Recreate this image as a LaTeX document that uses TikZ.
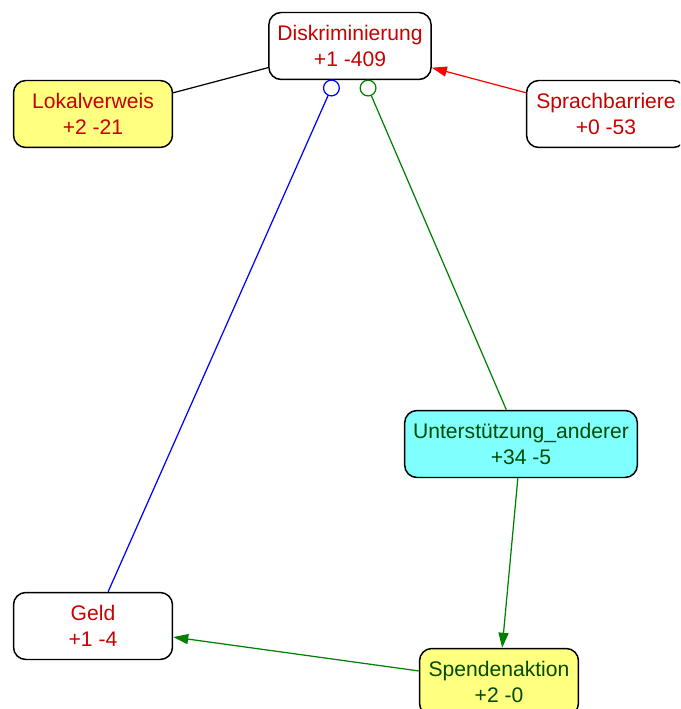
\documentclass[tikz,border=0pt]{standalone}
\usepackage{fontspec}
\setmainfont{Liberation Sans}
\usetikzlibrary{arrows.meta}

\definecolor{txtred}{RGB}{200,0,0}
\definecolor{txtgreen}{RGB}{0,75,0}
\definecolor{edgegreen}{RGB}{0,128,0}
\definecolor{boxyellow}{RGB}{255,255,128}
\definecolor{boxcyan}{RGB}{128,255,255}

\tikzset{
    topic/.style={draw=black, line width=0.85pt, rounded corners=7pt,
        fill=white, minimum width=3.18cm, minimum height=1.34cm,
        inner xsep=0.17cm, align=center,
        font=\fontsize{12}{14.6}\selectfont, text=txtred},
    link/.style={line width=0.7pt},
    tip/.style={-{Triangle[length=0.3cm, width=0.2cm]}},
    ring/.style={-{Circle[open, length=0.34cm, width=0.34cm]}},
}

\begin{document}
\begin{tikzpicture}[x=0.02cm, y=-0.02cm]
    \clip (0,0) rectangle (680,709);
    % Nodes
    \node[topic] (diskr) at (350,46) {Diskriminierung\\+1 -409};
    \node[topic, fill=boxyellow] (lokal) at (93,114) {Lokalverweis\\+2 -21};
    \node[topic] (sprach) at (606,114) {Sprachbarriere\\+0 -53};
    \node[topic, fill=boxcyan, text=txtgreen] (unterst) at (521,444) {Unterstützung\_anderer\\+34 -5};
    \node[topic] (geld) at (93,626) {Geld\\+1 -4};
    \node[topic, fill=boxyellow, text=txtgreen] (spende) at (499,682) {Spendenaktion\\+2 -0};
    % Edges
    \draw[link] (lokal) -- (diskr);
    \draw[link, tip, red] (sprach) -- (diskr);
    \draw[link, ring, blue] (geld) -- (diskr);
    \draw[link, ring, edgegreen] (unterst) -- (diskr);
    \draw[link, tip, edgegreen] (unterst) -- (spende);
    \draw[link, tip, edgegreen] (spende) -- (geld);
\end{tikzpicture}
\end{document}
